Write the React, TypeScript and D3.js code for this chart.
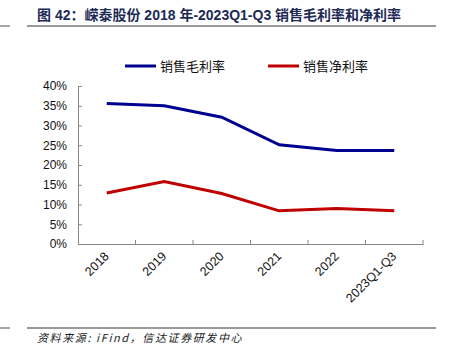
import React, { useEffect, useRef } from "react";
import * as d3 from "d3";

const categories = ["2018", "2019", "2020", "2021", "2022", "2023Q1-Q3"];
const grossMargin = [35.6, 35.0, 32.1, 25.1, 23.7, 23.7];
const netMargin = [12.9, 15.8, 12.8, 8.4, 9.0, 8.4];
const yTicks = [0, 5, 10, 15, 20, 25, 30, 35, 40];
const seriesNames = ["销售毛利率", "销售净利率"];
const seriesColors = ["#000090", "#C00000"];

export default function App() {
  const ref = useRef<SVGSVGElement>(null);

  useEffect(() => {
    const svg = d3.select(ref.current);
    svg.selectAll("*").remove();
    const font = "'Liberation Sans', Arial, sans-serif";
    const cjk = "'Noto Sans CJK SC', sans-serif";

    // title and rules
    svg
      .append("text")
      .attr("x", 37)
      .attr("y", 20)
      .attr("font-family", "'Liberation Sans', 'Noto Sans CJK SC', sans-serif")
      .attr("font-weight", "bold")
      .attr("font-size", 14)
      .attr("fill", "#1c2a55")
      .text("图 42：嵘泰股份 2018 年-2023Q1-Q3 销售毛利率和净利率");

    [26, 328].forEach((y) => {
      svg.append("line").attr("x1", 0).attr("x2", 10).attr("y1", y).attr("y2", y)
        .attr("stroke", "#888").attr("stroke-width", 1.5);
      svg.append("line").attr("x1", 27).attr("x2", 436).attr("y1", y).attr("y2", y)
        .attr("stroke", "#777").attr("stroke-width", 1.5);
    });

    svg
      .append("text")
      .attr("x", 37)
      .attr("y", 342)
      .attr("font-family", cjk)
      .attr("font-style", "italic")
      .attr("font-size", 11)
      .attr("letter-spacing", 1.6)
      .attr("fill", "#222")
      .text("资料来源: iFind，信达证券研发中心");

    // scales
    const x = d3.scaleBand().domain(categories).range([78, 423]);
    const y = d3.scaleLinear().domain([0, 40]).range([244, 86]);

    // y axis
    const yAxis = d3
      .axisLeft(y)
      .tickValues(yTicks)
      .tickSize(-4)
      .tickPadding(11)
      .tickFormat((d) => `${d}%`);
    const yg = svg.append("g").attr("transform", "translate(78,0)").call(yAxis);
    yg.select(".domain").attr("stroke", "#888");
    yg.selectAll(".tick line").attr("stroke", "#888");
    yg.selectAll(".tick text")
      .attr("font-family", font)
      .attr("font-size", 12)
      .attr("fill", "#111");

    // x axis
    const xAxis = d3.axisBottom(x).tickSize(0).tickFormat(() => "");
    const xg = svg.append("g").attr("transform", "translate(0,244)").call(xAxis);
    xg.select(".domain").attr("stroke", "#888");
    const bounds = categories.map((c) => (x(c) as number) + x.bandwidth());
    xg.selectAll(".edge")
      .data(bounds)
      .enter()
      .append("line")
      .attr("x1", (d) => d)
      .attr("x2", (d) => d)
      .attr("y1", 0)
      .attr("y2", -4)
      .attr("stroke", "#888");

    svg
      .append("g")
      .selectAll("text")
      .data(categories)
      .enter()
      .append("text")
      .attr("transform", (d) => {
        const cx = (x(d) as number) + x.bandwidth() / 2 + 3;
        return `translate(${cx},257) rotate(-45)`;
      })
      .attr("text-anchor", "end")
      .attr("font-family", font)
      .attr("font-size", 12.5)
      .attr("fill", "#111")
      .text((d) => d);

    // lines
    const line = d3
      .line<number>()
      .x((d, i) => (x(categories[i]) as number) + x.bandwidth() / 2)
      .y((d) => y(d));

    [grossMargin, netMargin].forEach((s, i) => {
      svg
        .append("path")
        .datum(s)
        .attr("fill", "none")
        .attr("stroke", seriesColors[i])
        .attr("stroke-width", 3)
        .attr("d", line);
    });

    // legend
    const legendX = [125, 268];
    seriesNames.forEach((name, i) => {
      svg.append("line")
        .attr("x1", legendX[i])
        .attr("x2", legendX[i] + 31)
        .attr("y1", 66)
        .attr("y2", 66)
        .attr("stroke", seriesColors[i])
        .attr("stroke-width", 3);
      svg.append("text")
        .attr("x", legendX[i] + 35)
        .attr("y", 71)
        .attr("font-family", cjk)
        .attr("font-size", 13)
        .attr("fill", "#111")
        .text(name);
    });
  }, []);

  return (
    <svg
      ref={ref}
      width={455}
      height={350}
      style={{ position: "absolute", left: 0, top: 0, background: "#fff" }}
    />
  );
}
